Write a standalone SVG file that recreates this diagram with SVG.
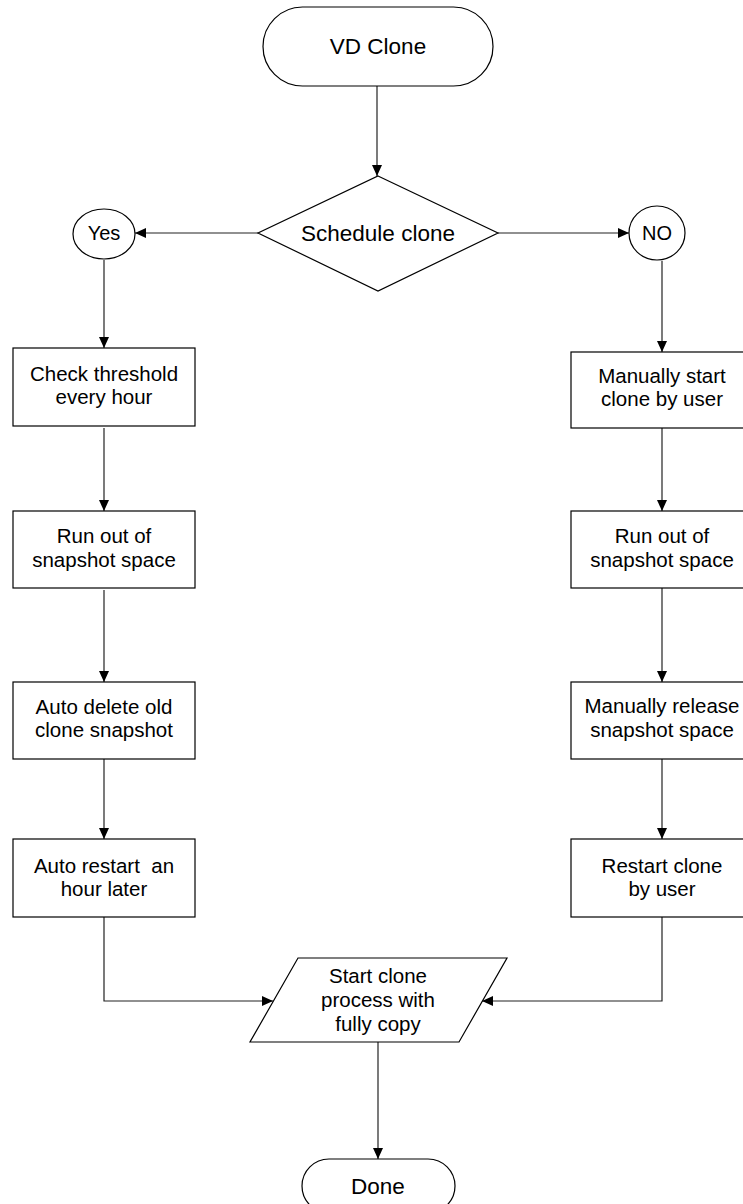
<svg xmlns="http://www.w3.org/2000/svg" width="743" height="1204" viewBox="0 0 743 1204">
<style>
.sh{fill:#fff;stroke:#000;stroke-width:1.2}
.t{font-family:"Liberation Sans",Arial,sans-serif;font-size:20.5px;fill:#000;text-anchor:middle}
.tl{font-size:22.5px}
.ts{font-size:20px}
.c{fill:none;stroke:#222;stroke-width:1.2}
</style>
<defs>
<marker id="a" markerUnits="userSpaceOnUse" markerWidth="12" markerHeight="10" refX="11" refY="5" orient="auto">
<path d="M0,0 L11,5 L0,10 z" fill="#000"/>
</marker>
</defs>
<rect width="743" height="1204" fill="#fff"/>
<g id="connectors">
<path class="c" d="M377,86 V176" marker-end="url(#a)"/>
<path class="c" d="M258,233 H135" marker-end="url(#a)"/>
<path class="c" d="M498,233 H629" marker-end="url(#a)"/>
<path class="c" d="M104,260 V348" marker-end="url(#a)"/>
<path class="c" d="M104,428 V511" marker-end="url(#a)"/>
<path class="c" d="M104,590 V682" marker-end="url(#a)"/>
<path class="c" d="M104,759 V839" marker-end="url(#a)"/>
<path class="c" d="M104,917 V1001 H273" marker-end="url(#a)"/>
<path class="c" d="M662,261 V352" marker-end="url(#a)"/>
<path class="c" d="M662,428 V511" marker-end="url(#a)"/>
<path class="c" d="M662,588 V682" marker-end="url(#a)"/>
<path class="c" d="M662,759 V839" marker-end="url(#a)"/>
<path class="c" d="M662,917 V1001 H482" marker-end="url(#a)"/>
<path class="c" d="M378,1042 V1159" marker-end="url(#a)"/>
</g>
<g id="start">
<rect class="sh" x="263" y="7" width="230" height="79" rx="39.5"/>
<text class="t tl" x="378" y="54">VD Clone</text>
</g>
<g id="decision">
<polygon class="sh" points="378,176 498,233 378,291 258,233"/>
<text class="t tl" x="378" y="241">Schedule clone</text>
</g>
<g id="yes">
<ellipse class="sh" cx="104" cy="234" rx="31" ry="25"/>
<text class="t ts" x="104" y="240">Yes</text>
</g>
<g id="no">
<ellipse class="sh" cx="657" cy="233" rx="28" ry="27"/>
<text class="t ts" x="657" y="240">NO</text>
</g>
<g id="check">
<rect class="sh" x="13" y="348" width="182" height="78"/>
<text class="t" x="104" y="381">Check threshold</text>
<text class="t" x="104" y="404">every hour</text>
</g>
<g id="runout-left">
<rect class="sh" x="13" y="511" width="182" height="77"/>
<text class="t" x="104" y="543">Run out of</text>
<text class="t" x="104" y="567">snapshot space</text>
</g>
<g id="autodelete">
<rect class="sh" x="13" y="682" width="182" height="77"/>
<text class="t" x="104" y="714">Auto delete old</text>
<text class="t" x="104" y="737">clone snapshot</text>
</g>
<g id="autorestart">
<rect class="sh" x="13" y="839" width="182" height="78"/>
<text class="t" x="104" y="873" xml:space="preserve">Auto restart  an</text>
<text class="t" x="104" y="896">hour later</text>
</g>
<g id="manualstart">
<rect class="sh" x="571" y="352" width="182" height="76"/>
<text class="t" x="662" y="383">Manually start</text>
<text class="t" x="662" y="406">clone by user</text>
</g>
<g id="runout-right">
<rect class="sh" x="571" y="511" width="182" height="77"/>
<text class="t" x="662" y="543">Run out of</text>
<text class="t" x="662" y="567">snapshot space</text>
</g>
<g id="release">
<rect class="sh" x="571" y="682" width="182" height="77"/>
<text class="t" x="662" y="713">Manually release</text>
<text class="t" x="662" y="737">snapshot space</text>
</g>
<g id="restart">
<rect class="sh" x="571" y="839" width="182" height="78"/>
<text class="t" x="662" y="873">Restart clone</text>
<text class="t" x="662" y="896">by user</text>
</g>
<g id="process">
<polygon class="sh" points="298,958 507,958 459,1042 250,1042"/>
<text class="t" x="378" y="983">Start clone</text>
<text class="t" x="378" y="1007">process with</text>
<text class="t" x="378" y="1031">fully copy</text>
</g>
<g id="done">
<rect class="sh" x="302" y="1159" width="153" height="54" rx="27"/>
<text class="t tl" x="378" y="1194">Done</text>
</g>
</svg>
